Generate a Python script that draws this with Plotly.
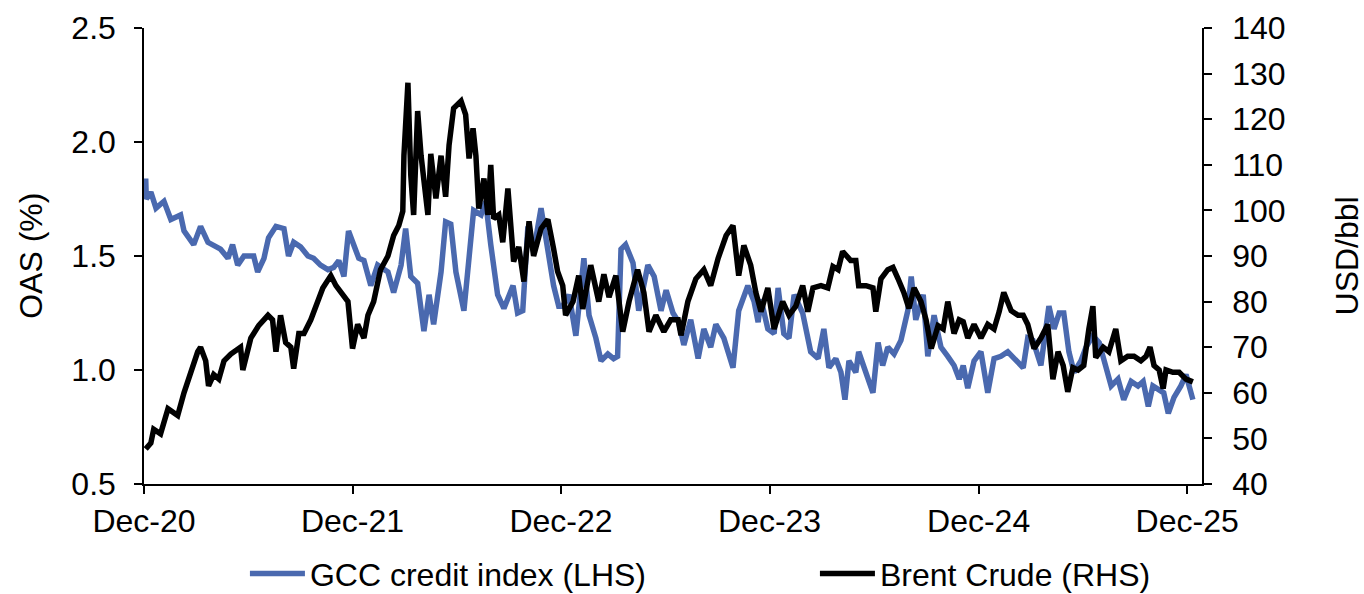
import pandas as pd
import plotly.graph_objects as go

# ---- data ----
base_date = "2020-12-04"

gcc_days = [0,1,9,18,32,44,61,67,84,96,
            109,131,144,152,161,172,189,196,207,215,
            228,242,250,259,271,284,294,306,319,329,
            338,347,355,364,373,382,394,406,424,434,
            447,455,464,476,487,496,504,517,525,534,
            543,557,566,574,587,595,604,616,627,643,
            651,660,669,679,692,704,714,723,730,741,
            753,767,776,788,797,809,819,826,832,840,
            853,863,879,890,902,911,923,933,942,954,
            967,977,989,998,1012,1028,1038,1054,1065,1072,
            1077,1089,1100,1107,1117,1126,1135,1150,1164,1177,
            1187,1196,1208,1217,1224,1231,1243,1248,1261,1273,
            1282,1290,1299,1310,1322,1334,1340,1348,1361,1369,
            1380,1392,1404,1415,1424,1431,1439,1450,1462,1474,
            1485,1497,1509,1520,1536,1544,1553,1567,1581,1590,
            1599,1607,1616,1625,1637,1646,1658,1669,1681,1690,
            1702,1712,1725,1737,1746,1755,1763,1774,1782,1790,
            1800,1812,1821,1833]

gcc_oas = [1.84,1.75,1.78,1.71,1.74,1.66,1.68,1.61,1.55,1.63,
           1.56,1.53,1.49,1.55,1.46,1.50,1.50,1.43,1.49,1.58,
           1.63,1.62,1.50,1.56,1.54,1.50,1.49,1.46,1.44,1.45,
           1.48,1.41,1.61,1.55,1.49,1.48,1.37,1.46,1.43,1.34,
           1.46,1.62,1.41,1.38,1.17,1.33,1.20,1.43,1.65,1.64,
           1.43,1.26,1.50,1.70,1.68,1.74,1.55,1.33,1.27,1.37,
           1.25,1.26,1.63,1.52,1.71,1.52,1.37,1.28,1.28,1.33,
           1.15,1.49,1.24,1.14,1.04,1.07,1.05,1.06,1.53,1.55,
           1.47,1.26,1.46,1.41,1.26,1.35,1.25,1.21,1.11,1.22,
           1.05,1.18,1.10,1.20,1.14,1.01,1.26,1.37,1.30,1.21,
           1.31,1.18,1.16,1.36,1.16,1.14,1.33,1.25,1.08,1.05,
           1.18,1.01,1.05,0.99,0.87,1.04,0.99,1.08,0.99,0.90,
           1.12,1.02,1.10,1.07,1.13,1.26,1.41,1.22,1.33,1.06,
           1.24,1.10,1.06,1.02,0.96,1.02,0.92,1.04,1.08,0.90,
           1.05,1.06,1.08,1.05,1.01,1.14,1.13,1.02,1.28,1.18,
           1.25,1.25,1.08,0.99,1.04,1.10,1.15,1.12,1.02,0.93,
           0.96,0.87,0.95,0.93,0.95,0.84,0.93,0.91,0.90,0.81,
           0.88,0.93,0.98,0.87]

brent_days = [0,9,14,26,39,56,67,79,91,96,
              105,110,119,128,137,149,166,170,184,198,
              214,222,228,236,245,254,259,268,277,289,
              298,310,324,333,354,362,371,382,389,399,
              411,424,434,443,450,452,459,464,469,476,
              482,487,494,499,508,517,525,531,539,552,
              560,566,573,578,583,592,599,604,609,618,
              625,634,639,644,653,662,671,679,692,704,
              714,721,730,735,748,758,765,779,793,802,
              811,823,835,846,861,872,881,893,907,919,
              932,937,949,963,977,989,1002,1016,1028,1038,
              1047,1059,1068,1077,1089,1100,1115,1126,1138,1150,
              1159,1168,1182,1194,1203,1212,1220,1234,1243,1248,
              1261,1273,1278,1287,1299,1308,1317,1327,1336,1345,
              1357,1366,1375,1387,1396,1404,1415,1424,1431,1439,
              1450,1462,1474,1485,1494,1502,1515,1527,1536,1544,
              1555,1567,1579,1588,1597,1606,1614,1623,1632,1642,
              1651,1658,1663,1676,1686,1698,1707,1719,1730,1742,
              1751,1758,1765,1774,1781,1786,1798,1809,1821,1833]

brent_usd = [47.7,49,52,51,56.5,55,60,64.6,69,70,
             67,61.5,64,63,67,68.5,70,65,72,74.8,
             77,76,69,77,71,70,65.3,73,73,76,
             79,83,85.7,83.5,80,69.7,75,72,77,80,
             87,90,94.5,96.7,99.8,112,128,107.7,99,121.8,
             112,105.5,99,112.4,102.6,112,103,114.3,122.4,124,
             121,111.4,118,112,100.4,107,99,110,98.2,99,
             93,104.8,95,88.8,92,84.4,97.6,90,96,98,
             91.6,86.6,83.5,77,80,85.7,78.4,88,80,86,
             81,85.7,73.4,80,87,82,73.4,77,73.4,76,
             76,72.6,80,85,87,83.5,89.5,94.5,96.7,85.7,
             92.3,88,82,77.8,83,74,80,77,79,83.5,
             77.8,83,83.5,83,87.7,87,91,89,89,83.5,
             83.5,83,77.8,85,87,87.5,85,82,78.5,83,
             80,76,69.7,74.7,74,80,73,76,75.6,72,
             75,72,75,74,77.8,82,78,77,77,75,
             69.7,72,75,63,69,66,60.2,65.5,65,66,
             74,79,67.7,70,69,74,67,68,68,67,
             68,70,66,65,60.9,65,64.5,64.5,63,62.4]

tick_dates = ["2020-12-01", "2021-12-01", "2022-12-01",
              "2023-12-01", "2024-12-01", "2025-12-01"]
tick_labels = ["Dec-20", "Dec-21", "Dec-22", "Dec-23", "Dec-24", "Dec-25"]

series_names = ["GCC credit index (LHS)", "Brent Crude (RHS)"]
left_title = "OAS (%)"
right_title = "USD/bbl"

# ---- build ----
t0 = pd.Timestamp(base_date)
gcc_dates = [t0 + pd.Timedelta(days=d) for d in gcc_days]
brent_dates = [t0 + pd.Timedelta(days=d) for d in brent_days]

BLUE = "#4A69AF"
FONT = "Arial, Liberation Sans, sans-serif"
FS = 32

fig = go.Figure()
fig.add_trace(go.Scatter(x=gcc_dates, y=gcc_oas, mode="lines", name=series_names[0],
                         line=dict(color=BLUE, width=5.5), yaxis="y", legendwidth=500))
fig.add_trace(go.Scatter(x=brent_dates, y=brent_usd, mode="lines", name=series_names[1],
                         line=dict(color="black", width=5.5), yaxis="y2", legendwidth=300))

axis_common = dict(showgrid=False, zeroline=False, showline=True, linecolor="black",
                   linewidth=1.5, ticks="outside", ticklen=8, tickwidth=1.5,
                   tickcolor="black", tickfont=dict(size=FS, color="black", family=FONT))

fig.update_layout(
    width=1364, height=594,
    margin=dict(l=144, r=162, t=28, b=110, autoexpand=False),
    plot_bgcolor="white", paper_bgcolor="white",
    font=dict(family=FONT, size=FS, color="black"),
    xaxis=dict(type="date", range=["2020-12-01", "2025-12-27"],
               tickvals=tick_dates, ticktext=tick_labels, **axis_common),
    yaxis=dict(range=[0.5, 2.5], dtick=0.5, tickformat=".1f",
               ticklabelstandoff=12, **axis_common),
    yaxis2=dict(range=[40, 140], dtick=10, overlaying="y", side="right",
                ticklabelstandoff=14, **axis_common),
    legend=dict(orientation="h", x=0.0954, xanchor="left", y=-0.1965, yanchor="middle",
                itemwidth=55,
                font=dict(size=FS, color="black", family=FONT),
                bgcolor="rgba(0,0,0,0)"),
    annotations=[
        dict(text=left_title, x=-0.107, y=0.5, xref="paper", yref="paper",
             xanchor="center", yanchor="middle",
             textangle=-90, showarrow=False, font=dict(size=FS, color="black", family=FONT)),
        dict(text=right_title, x=1.1375, y=0.5, xref="paper", yref="paper",
             xanchor="center", yanchor="middle",
             textangle=-90, showarrow=False, font=dict(size=FS, color="black", family=FONT)),
    ],
)

fig.write_html("out.html", config={"displayModeBar": False},
               post_script="document.body.style.margin='0px';")
